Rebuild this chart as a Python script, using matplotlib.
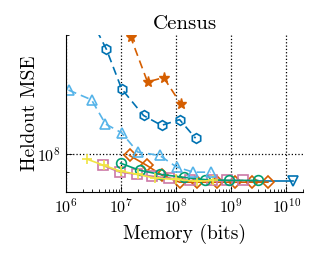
import numpy as np
import matplotlib
matplotlib.use('Agg')
import matplotlib.pyplot as plt
from matplotlib.ticker import LogLocator, NullFormatter, FixedLocator

plt.rcParams['mathtext.fontset'] = 'cm'
plt.rcParams['font.family'] = 'cmr10'
plt.rcParams['axes.formatter.use_mathtext'] = True

# Series (memory in bits, heldout MSE)
hex_mem = [2.8e6, 5.4e6, 1.02e7, 2.55e7, 5.4e7, 1.15e8, 2.24e8]
hex_mse = [2.2e8, 1.84e8, 1.46e8, 1.25e8, 1.18e8, 1.22e8, 1.095e8]

star_mem = [1.02e7, 1.48e7, 3.01e7, 5.9e7, 1.2e8]
star_mse = [2.31e8, 1.98e8, 1.52e8, 1.56e8, 1.34e8]

tri_mem = [1.11e6, 2.9e6, 5.2e6, 1.02e7, 2.0e7, 5.0e7, 1.02e8, 2.05e8, 4.2e8]
tri_mse = [1.45e8, 1.37e8, 1.19e8, 1.13e8, 1.01e8, 9.9e7, 9.25e7, 8.98e7, 8.98e7]

circ_mem = [9.8e6, 2.16e7, 5.0e7, 1.41e8, 3.3e8, 9.2e8, 2.99e9]
circ_mse = [9.46e7, 9.08e7, 8.87e7, 8.71e7, 8.6e7, 8.56e7, 8.56e7]

plus_mem = [2.45e6, 4.8e6, 9.8e6, 2.0e7, 4.1e7, 9.8e7, 2.35e8, 4.6e8]
plus_mse = [9.68e7, 9.35e7, 9.03e7, 8.87e7, 8.67e7, 8.61e7, 8.51e7, 8.56e7]

sq_mem = [4.6e6, 9.4e6, 1.9e7, 3.7e7, 7.5e7, 1.74e8, 4.4e8, 8.2e8, 1.6e9]
sq_mse = [9.35e7, 8.98e7, 8.87e7, 8.77e7, 8.67e7, 8.56e7, 8.56e7, 8.56e7, 8.56e7]

dia_mem = [1.42e7, 2.89e7, 5.6e7, 1.15e8, 2.35e8, 5.6e8, 1.15e9, 2.35e9, 4.6e9]
dia_mse = [9.9e7, 9.35e7, 8.81e7, 8.47e7, 8.47e7, 8.47e7, 8.47e7, 8.47e7, 8.47e7]

vtri_mem = [2.0e9, 1.29e10]
vtri_mse = [8.51e7, 8.51e7]

fig = plt.figure(figsize=(3.19, 2.57), dpi=100)
ax = fig.add_axes([0.207, 0.253, 0.743, 0.611])

kw = dict(markerfacecolor='none', markersize=7, markeredgewidth=1.2, linewidth=1.2)
dash = dict(dashes=(5, 3))
ax.plot(vtri_mem, vtri_mse, '-', marker='v', color='#0072B2', markevery=[1], **kw)
ax.plot(dia_mem, dia_mse, '-', marker='D', color='#D55E00', **dict(kw, markersize=6))
ax.plot(sq_mem, sq_mse, '-', marker='s', color='#CC79A7', **kw)
ax.plot(circ_mem, circ_mse, '-', marker='o', color='#009E73', **kw)
ax.plot(plus_mem, plus_mse, '-', marker='+', color='#F0E442', **kw)
ax.plot(tri_mem, tri_mse, '--', marker='^', color='#56B4E9', **kw, **dash)
ax.plot(hex_mem, hex_mse, '--', marker='h', color='#0072B2', **kw, **dash)
ax.plot(star_mem, star_mse, '--', marker='*', color='#D55E00',
        markerfacecolor='#D55E00', markersize=8, linewidth=1.2, **dash)

ax.set_xscale('log')
ax.set_yscale('log')
ax.set_xlim(1e6, 2e10)
ax.set_ylim(8e7, 2e8)

ax.xaxis.set_major_locator(FixedLocator([1e6, 1e7, 1e8, 1e9, 1e10]))
ax.xaxis.set_minor_locator(LogLocator(base=10, subs=np.arange(2, 10), numticks=20))
ax.xaxis.set_minor_formatter(NullFormatter())
ax.yaxis.set_major_locator(FixedLocator([1e8]))
ax.yaxis.set_minor_locator(LogLocator(base=10, subs=np.arange(2, 10), numticks=20))
ax.yaxis.set_minor_formatter(NullFormatter())

ax.grid(True, which='major', linestyle=':', color='black', linewidth=0.9)
ax.spines['top'].set_visible(False)
ax.spines['right'].set_visible(False)
ax.tick_params(which='both', direction='in', labelsize=11.5, width=0.6)
ax.tick_params(which='major', length=4)
ax.tick_params(which='minor', length=2)

ax.set_title('Census', fontsize=15, pad=4)
ax.set_xlabel('Memory (bits)', fontsize=14, labelpad=6)
ax.set_ylabel('Heldout MSE', fontsize=14)
ax.yaxis.set_label_coords(-0.115, 0.5)

fig.savefig('out.png', dpi=100)
